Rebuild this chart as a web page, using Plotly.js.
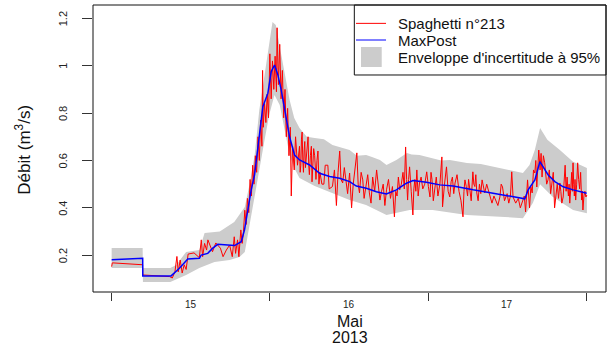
<!DOCTYPE html>
<html><head><meta charset="utf-8">
<script src="https://cdn.plot.ly/plotly-3.0.1.min.js"></script>
<style>html,body{margin:0;padding:0;background:#fff}#chart{width:607px;height:347px}</style>
</head><body><div id="chart"></div>
<script>
// time in hours since 15 May 2013 00:00
const dayTicks = [0, 24, 48, 72];
const dayLabelPos = [12, 36, 60];
const dayLabels = ['15', '16', '17'];
const yTicks = [0.2, 0.4, 0.6, 0.8, 1.0, 1.2];
const yTickText = ['0.2', '0.4', '0.6', '0.8', '1', '1.2'];
const legendLabels = ['Spaghetti n°213', 'MaxPost', "Enveloppe d'incertitude à 95%"];

const envUpper = [[0,0.231],[4.7,0.231],[4.75,0.146],[8.9,0.146],[9.8,0.159],[11.3,0.214],[13.3,0.222],[14.1,0.294],[16.4,0.300],[18.6,0.340],[20.2,0.404],[20.9,0.497],[21.7,0.623],[22.4,0.813],[23.2,0.961],[23.9,1.087],[24.4,1.184],[24.9,1.172],[25.5,1.087],[26.3,0.961],[27.0,0.855],[27.7,0.779],[28.5,0.737],[29.6,0.700],[30.8,0.695],[32.2,0.690],[33.5,0.665],[36.1,0.644],[37.2,0.620],[38.6,0.623],[39.5,0.615],[40.7,0.602],[41.7,0.581],[43.2,0.602],[44.8,0.632],[45.5,0.625],[46.7,0.623],[48.7,0.611],[50.0,0.600],[51.3,0.602],[53.9,0.589],[56.0,0.585],[58.9,0.568],[60.5,0.560],[62.4,0.547],[63.4,0.581],[64.2,0.644],[65.0,0.737],[66.1,0.687],[68.0,0.644],[69.0,0.620],[70.0,0.595],[71.2,0.580],[72.1,0.568]];
const envLower = [[0,0.146],[4.7,0.146],[4.75,0.087],[8.9,0.087],[11.3,0.117],[13.3,0.146],[15.6,0.172],[17.9,0.180],[19.4,0.193],[20.2,0.214],[20.9,0.307],[21.7,0.433],[22.4,0.560],[23.2,0.686],[23.9,0.792],[24.7,0.876],[25.5,0.834],[26.3,0.729],[27.0,0.623],[27.7,0.568],[28.5,0.526],[30.8,0.492],[33.5,0.463],[36.1,0.433],[38.6,0.412],[41.7,0.370],[45.2,0.391],[48.7,0.391],[53.9,0.370],[58.9,0.363],[62.4,0.356],[63.9,0.421],[65.0,0.500],[66.9,0.447],[70.0,0.391],[72.1,0.377]];

const maxPost = [[0,0.181],[4.71,0.187],[4.72,0.113],[9.02,0.113],[10.28,0.145],[11.04,0.166],[11.55,0.184],[13.32,0.187],[13.58,0.201],[14.58,0.208],[15.34,0.230],[16.10,0.246],[17.62,0.243],[18.64,0.241],[19.66,0.257],[20.16,0.307],[20.66,0.391],[21.17,0.476],[21.68,0.539],[22.18,0.644],[22.94,0.827],[23.70,0.884],[24.21,0.975],[24.71,1.003],[25.22,0.961],[25.73,0.897],[26.49,0.771],[26.99,0.700],[27.75,0.623],[28.51,0.602],[30.03,0.581],[31.55,0.546],[33.07,0.532],[34.59,0.525],[36.11,0.511],[37.12,0.492],[38.64,0.483],[40.16,0.468],[41.68,0.459],[43.20,0.476],[44.72,0.504],[45.72,0.515],[47.76,0.508],[49.78,0.497],[51.80,0.492],[53.83,0.480],[54.84,0.476],[57.87,0.462],[60.41,0.450],[62.69,0.438],[63.19,0.476],[64.21,0.518],[64.97,0.595],[65.47,0.574],[66.23,0.539],[67.24,0.511],[68.51,0.489],[70.03,0.476],[72.06,0.462]];

const spaghetti = [[0,0.152],[0.1,0.168],[4.7,0.160],[4.72,0.117],[8.8,0.110],[9.2,0.104],[9.6,0.13],[9.9,0.195],[10.1,0.13],[10.4,0.18],[10.7,0.125],[11.0,0.16],[11.3,0.14],[11.6,0.205],[12.5,0.21],[13.3,0.19],[13.6,0.265],[13.8,0.194],[14.1,0.25],[14.4,0.222],[14.6,0.265],[15.3,0.215],[15.8,0.252],[16.5,0.23],[16.9,0.194],[17.4,0.222],[17.9,0.243],[18.3,0.194],[18.6,0.278],[18.8,0.208],[19.1,0.265],[19.3,0.194],[19.6,0.307],[19.8,0.25],[20.0,0.30],
[20.2,0.39],[20.4,0.33],[20.6,0.44],[20.8,0.38],[21.0,0.52],[21.2,0.45],[21.4,0.58],[21.6,0.50],[21.8,0.62],[22.0,0.55],[22.2,0.70],[22.4,0.60],[22.6,0.77],[22.8,0.66],[22.9,0.98],[23.0,0.74],[23.2,0.84],[23.4,0.76],[23.6,0.88],[23.8,0.78],[24.0,1.05],[24.2,0.86],[24.4,1.02],[24.6,0.90],[24.8,1.04],[25.0,0.89],[25.1,1.16],[25.3,0.92],[25.5,1.09],[25.7,0.86],[25.9,0.98],[26.1,0.78],[26.3,0.90],[26.5,0.70],[26.7,0.82],[26.9,0.62],[27.1,0.74],[27.25,0.45],[27.45,0.66],[27.7,0.56],[27.9,0.70],[28.2,0.58],[28.5,0.66],
[28.6,0.55],[28.7,0.58],[28.8,0.69],[28.9,0.72],[29.0,0.60],[29.1,0.55],[29.2,0.64],[29.3,0.68],[29.4,0.57],[29.5,0.60],[29.65,0.66],[29.8,0.70],[29.9,0.58],[30.0,0.54],[30.15,0.62],[30.3,0.66],[30.4,0.51],[30.5,0.56],[30.65,0.65],[30.8,0.62],[30.9,0.55],[31.0,0.52],[31.15,0.60],[31.3,0.64],[31.45,0.50],[31.6,0.55],[31.9,0.50],[32.2,0.50],[32.4,0.58],[32.8,0.58],[33.0,0.48],[33.5,0.49],[33.8,0.56],[33.95,0.47],[34.1,0.41],[34.35,0.55],[34.6,0.64],[34.8,0.52],[35.05,0.505],[35.3,0.57],[35.5,0.52],[35.8,0.46],[36.1,0.547],[36.4,0.40],[36.65,0.50],[36.9,0.568],[37.2,0.632],[37.4,0.50],[37.6,0.463],[37.85,0.55],[38.1,0.518],[38.3,0.44],[38.6,0.49],[38.85,0.54],[39.1,0.463],[39.35,0.42],[39.6,0.53],[39.9,0.47],[40.2,0.56],[40.45,0.49],[40.7,0.433],[40.95,0.47],[41.2,0.50],[41.45,0.41],[41.7,0.476],[42.0,0.52],[42.3,0.44],[42.6,0.49],[42.9,0.362],[43.1,0.47],[43.3,0.45],[43.5,0.53],[43.7,0.476],[43.95,0.50],[44.2,0.55],[44.4,0.48],[44.6,0.657],[44.75,0.52],[44.9,0.433],[45.05,0.52],[45.2,0.573],[45.45,0.47],[45.7,0.37],[45.85,0.48],[46.0,0.52],[46.15,0.47],[46.3,0.56],[46.5,0.45],[46.7,0.505],[46.95,0.53],[47.2,0.48],[47.5,0.50],[47.8,0.552],[48.05,0.49],[48.3,0.446],[48.45,0.55],[48.6,0.52],[48.8,0.43],[49.0,0.488],[49.25,0.53],[49.5,0.45],[49.8,0.50],[50.1,0.615],[50.2,0.404],[50.5,0.50],[50.8,0.573],[51.05,0.47],[51.3,0.446],[51.5,0.51],[51.7,0.53],[51.9,0.46],[52.1,0.505],[52.4,0.54],[52.7,0.47],[53.0,0.43],[53.3,0.362],[53.45,0.47],[53.6,0.518],[53.8,0.49],[54.0,0.45],[54.15,0.52],[54.3,0.476],[54.55,0.43],[54.8,0.552],[54.95,0.50],[55.1,0.49],[55.25,0.54],[55.4,0.463],[55.6,0.43],[55.8,0.50],[56.0,0.46],[56.2,0.518],[56.4,0.48],[56.6,0.463],[56.9,0.50],[57.2,0.47],[57.45,0.44],[57.7,0.42],[58.0,0.45],[58.3,0.43],[58.6,0.41],[58.9,0.446],[59.1,0.50],[59.3,0.488],[59.6,0.43],[60.0,0.46],[60.25,0.42],[60.5,0.45],[60.7,0.552],[60.9,0.446],[61.3,0.42],[61.7,0.44],[62.0,0.40],[62.4,0.433],[62.6,0.45],[62.8,0.383],[63.1,0.518],[63.4,0.40],[63.6,0.49],[63.8,0.463],[64.0,0.56],[64.2,0.547],[64.35,0.60],[64.5,0.488],[64.65,0.58],[64.8,0.644],[65.0,0.56],[65.15,0.63],[65.3,0.53],[65.5,0.62],[65.7,0.59],[65.85,0.52],[66.0,0.50],[66.2,0.518],[66.4,0.56],[66.6,0.46],[66.8,0.52],[67.0,0.55],[67.2,0.40],[67.4,0.47],[67.6,0.50],[67.8,0.44],[68.0,0.505],[68.15,0.47],[68.3,0.42],[68.5,0.446],[68.65,0.52],[68.8,0.58],[68.95,0.47],[69.1,0.53],[69.2,0.48],[69.3,0.45],[69.4,0.50],[69.5,0.42],[69.65,0.48],[69.8,0.55],[69.9,0.47],[70.0,0.59],[70.1,0.50],[70.2,0.45],[70.3,0.52],[70.4,0.433],[70.55,0.50],[70.7,0.59],[70.85,0.52],[71.0,0.48],[71.15,0.55],[71.3,0.433],[71.4,0.47],[71.5,0.391],[71.65,0.45],[71.8,0.47],[71.95,0.446],[72.1,0.454]];

const tx = a => a.map(p => p[0]);
const qy = a => a.map(p => p[1]);

const envX = tx(envUpper).concat(tx(envLower).reverse());
const envY = qy(envUpper).concat(qy(envLower).reverse());

const traces = [
  {x: envX, y: envY, type: 'scatter', mode: 'lines', fill: 'toself', fillcolor: '#CCCCCC',
   line: {width: 0, color: '#CCCCCC'}, hoverinfo: 'skip', name: legendLabels[2]},
  {x: tx(spaghetti), y: qy(spaghetti), type: 'scatter', mode: 'lines',
   line: {color: '#FF0000', width: 1}, name: legendLabels[0]},
  {x: tx(maxPost), y: qy(maxPost), type: 'scatter', mode: 'lines',
   line: {color: '#0000FF', width: 1.5}, name: legendLabels[1]}
];

const FONT = 'Liberation Sans, Arial, Helvetica, sans-serif';
const annotations = dayLabelPos.map((p, i) => ({
  x: p, xref: 'x', y: -0.045, yref: 'paper', text: dayLabels[i], showarrow: false,
  xanchor: 'center', yanchor: 'middle', font: {size: 10, color: '#222'}
}));
yTicks.forEach((v, i) => annotations.push({
  x: -0.0585, xref: 'paper', y: v, yref: 'y', text: yTickText[i], showarrow: false,
  textangle: -90, xanchor: 'center', yanchor: 'middle', font: {size: 11, color: '#222'}
}));
annotations.push(
  {x: 0.5, xref: 'paper', y: -0.102, yref: 'paper', text: 'Mai', showarrow: false,
   xanchor: 'center', yanchor: 'middle', font: {size: 16, color: '#111'}},
  {x: 0.5, xref: 'paper', y: -0.158, yref: 'paper', text: '2013', showarrow: false,
   xanchor: 'center', yanchor: 'middle', font: {size: 16, color: '#111'}},
  {x: -0.137, xref: 'paper', y: 0.495, yref: 'paper', text: 'Débit (m<sup>3</sup>/s)', showarrow: false,
   textangle: -90, xanchor: 'center', yanchor: 'middle', font: {size: 17, color: '#111'}}
);
const legY = [0.936, 0.878, 0.8188];
legendLabels.forEach((t, i) => annotations.push({
  x: 0.591, xref: 'paper', y: legY[i], yref: 'paper', text: t, showarrow: false,
  xanchor: 'left', yanchor: 'middle', font: {size: 15, color: '#111'}
}));

const shapes = [
  {type: 'rect', xref: 'paper', yref: 'paper', x0: 0.5094, x1: 1, y0: 0.7561, y1: 1,
   line: {color: '#111', width: 1}, fillcolor: '#FFFFFF'},
  {type: 'line', xref: 'paper', yref: 'paper', x0: 0.5127, x1: 0.5712, y0: legY[0], y1: legY[0],
   line: {color: '#FF0000', width: 1}},
  {type: 'line', xref: 'paper', yref: 'paper', x0: 0.5127, x1: 0.5712, y0: legY[1], y1: legY[1],
   line: {color: '#0000FF', width: 1}},
  {type: 'rect', xref: 'paper', yref: 'paper', x0: 0.5224, x1: 0.5628, y0: 0.784, y1: 0.8537,
   line: {width: 0}, fillcolor: '#CCCCCC'},
  {type: 'rect', xref: 'paper', yref: 'paper', x0: 0, x1: 1, y0: 0, y1: 1,
   line: {color: '#111', width: 1}}
];

const layout = {
  width: 607, height: 347,
  margin: {l: 93, r: 1, t: 5, b: 55, pad: 0},
  paper_bgcolor: '#FFFFFF', plot_bgcolor: '#FFFFFF',
  font: {family: FONT, color: '#111'},
  showlegend: false,
  xaxis: {range: [-2.83, 75.0], tickmode: 'array', tickvals: dayTicks, showticklabels: false,
          ticks: 'outside', ticklen: 8, tickwidth: 1, tickcolor: '#333',
          showgrid: false, zeroline: false, showline: false},
  yaxis: {range: [0.045, 1.256], tickmode: 'array', tickvals: yTicks, showticklabels: false,
          ticks: 'outside', ticklen: 10, tickwidth: 1, tickcolor: '#333',
          showgrid: false, zeroline: false, showline: false},
  annotations: annotations,
  shapes: shapes
};

Plotly.newPlot('chart', traces, layout, {staticPlot: true, displayModeBar: false});
</script>
</body></html>
